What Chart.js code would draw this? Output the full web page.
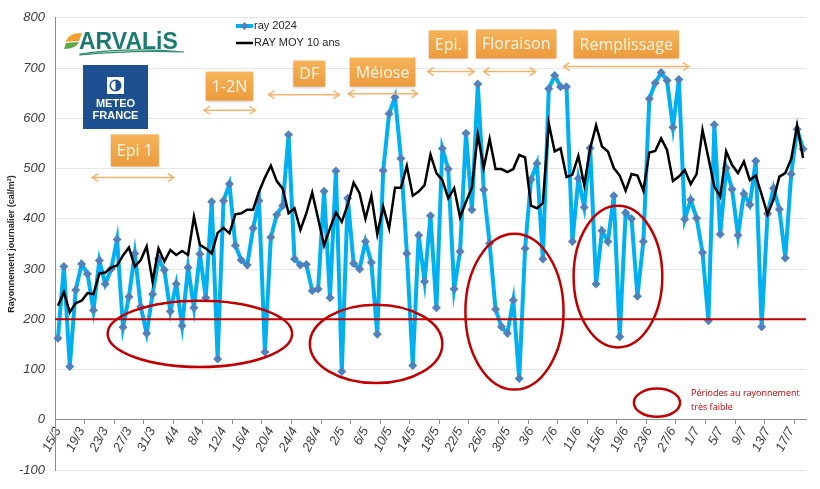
<!DOCTYPE html>
<html>
<head>
<meta charset="utf-8">
<script src="https://cdn.jsdelivr.net/npm/chart.js@4.4.1/dist/chart.umd.min.js"></script>
<style>
  html, body { margin: 0; padding: 0; background: #fff; }
  #wrap { width: 820px; height: 489px; }
</style>
</head>
<body>
<div id="wrap"><canvas id="graph" width="820" height="489"></canvas></div>
<script>
// jours du 15/3 au 19/7/2024
const premierJour = new Date(2024, 2, 15);
const nbJours = 127;
const jours = [];
for (let i = 0; i < nbJours; i++) {
  const d = new Date(premierJour.getFullYear(), premierJour.getMonth(), premierJour.getDate() + i);
  jours.push(d.getDate() + '/' + (d.getMonth() + 1));
}

// rayonnement journalier 2024 (cal/m²)
const ray2024 = [
  162, 305, 106, 258, 310, 290, 218, 317, 270, 300,
  359, 184, 245, 331, 225, 172, 250, 321, 298, 216,
  270, 187, 303, 223, 330, 243, 434, 121, 436, 469,
  347, 318, 308, 381, 436, 135, 363, 408, 426, 567,
  320, 308, 309, 257, 260, 455, 243, 495, 96, 441,
  311, 300, 355, 313, 170, 496, 609, 642, 520, 331,
  108, 367, 275, 406, 223, 540, 499, 260, 335, 570,
  418, 668, 458, 351, 220, 185, 172, 238, 82, 341,
  478, 510, 320, 659, 685, 663, 663, 355, 480, 423,
  541, 270, 376, 355, 446, 165, 412, 400, 246, 355,
  639, 670, 691, 675, 582, 677, 399, 438, 401, 333,
  197, 587, 369, 501, 459, 367, 450, 428, 515, 185,
  410, 461, 419, 322, 489, 578, 539
];

// moyenne 10 ans
const rayMoy10 = [
  227, 254, 214, 232, 237, 252, 250, 291, 293, 303,
  307, 327, 343, 305, 318, 345, 275, 341, 315, 338,
  328, 336, 328, 404, 348, 341, 331, 372, 382, 371,
  409, 411, 418, 418, 454, 482, 506, 475, 460, 411,
  421, 378, 411, 452, 400, 347, 381, 413, 394, 428,
  472, 451, 400, 446, 369, 424, 381, 462, 462, 505,
  446, 454, 467, 528, 491, 477, 441, 461, 403, 434,
  462, 568, 501, 559, 499, 499, 493, 499, 527, 522,
  426, 421, 431, 590, 534, 540, 483, 488, 525, 467,
  540, 586, 544, 534, 501, 486, 456, 489, 486, 456,
  532, 535, 560, 537, 475, 484, 497, 469, 489, 577,
  521, 464, 444, 534, 507, 491, 514, 477, 486, 448,
  409, 438, 484, 491, 519, 586, 521
];

const seuil = 200;

// stades (x en jours depuis le 15/3, y en cal/m²)
const phases = [
  { nom: 'Epi 1', x: 13.0, y: 536, h: 32, de: 5.8, a: 19.6, yFleche: 482 },
  { nom: '1-2N', x: 29.0, y: 664, h: 29, de: 24.7, a: 33.4, yFleche: 616 },
  { nom: 'DF', x: 42.5, y: 689, h: 26, de: 35.6, a: 47.6, yFleche: 647 },
  { nom: 'Méiose', x: 54.9, y: 692, h: 29, de: 49.1, a: 60.8, yFleche: 649 },
  { nom: 'Epi.', x: 66.0, y: 747, h: 28, de: 62.5, a: 70.4, yFleche: 693 },
  { nom: 'Floraison', x: 77.5, y: 748, h: 29, de: 72.0, a: 80.8, yFleche: 693 },
  { nom: 'Remplissage', x: 96.1, y: 747, h: 28, de: 85.5, a: 106.7, yFleche: 703 }
];

// périodes au rayonnement très faible
const periodesFaibles = [
  { x: 24.0, y: 171, rx: 15.6, ry: 66 },
  { x: 53.8, y: 151, rx: 11.2, ry: 78 },
  { x: 77.2, y: 215, rx: 8.3, ry: 155 },
  { x: 94.7, y: 285, rx: 7.5, ry: 141 }
];
const ellipseLegende = { x: 101.3, y: 34, rx: 3.9, ry: 28 };

const rouge = '#c00000';

function ellipse(ctx, sx, sy, e) {
  const cx = sx.getPixelForValue(e.x);
  const cy = sy.getPixelForValue(e.y);
  const rx = Math.abs(sx.getPixelForValue(e.x + e.rx) - cx);
  const ry = Math.abs(sy.getPixelForValue(e.y + e.ry) - cy);
  ctx.beginPath();
  ctx.ellipse(cx, cy, rx, ry, 0, 0, Math.PI * 2);
  ctx.stroke();
  return { cx, cy, rx, ry };
}

function fleche(ctx, x1, x2, y) {
  ctx.beginPath();
  ctx.moveTo(x1, y); ctx.lineTo(x2, y);
  ctx.moveTo(x1 + 6, y - 4); ctx.lineTo(x1, y); ctx.lineTo(x1 + 6, y + 4);
  ctx.moveTo(x2 - 6, y - 4); ctx.lineTo(x2, y); ctx.lineTo(x2 - 6, y + 4);
  ctx.stroke();
}

const decor = {
  id: 'decor',
  afterDatasetsDraw(chart) {
    const ctx = chart.ctx;
    const sx = chart.scales.x, sy = chart.scales.y;
    const a = chart.chartArea;
    ctx.save();
    // seuil 200
    ctx.strokeStyle = rouge;
    ctx.lineWidth = 2;
    const ys = sy.getPixelForValue(seuil);
    ctx.beginPath(); ctx.moveTo(a.left, ys); ctx.lineTo(a.right, ys); ctx.stroke();

    // ellipses
    ctx.lineWidth = 2.5;
    periodesFaibles.forEach(e => ellipse(ctx, sx, sy, e));
    const el = ellipse(ctx, sx, sy, ellipseLegende);
    ctx.fillStyle = rouge;
    ctx.font = '9px "Open Sans"';
    ctx.textBaseline = 'middle';
    ctx.textAlign = 'left';
    ctx.fillText('Périodes au rayonnement', el.cx + el.rx + 11, el.cy - 9);
    ctx.fillText('très faible', el.cx + el.rx + 11, el.cy + 5);

    // stades
    phases.forEach(p => {
      ctx.font = '16px "Open Sans"';
      const tw = ctx.measureText(p.nom).width;
      const w = tw + 12;
      const cx = sx.getPixelForValue(p.x);
      const cy = sy.getPixelForValue(p.y);
      const g = ctx.createLinearGradient(0, cy - p.h / 2, 0, cy + p.h / 2);
      g.addColorStop(0, '#f6b35a');
      g.addColorStop(1, '#ec9b3c');
      ctx.shadowColor = 'rgba(0,0,0,0.25)';
      ctx.shadowBlur = 3;
      ctx.shadowOffsetY = 1;
      ctx.fillStyle = g;
      ctx.fillRect(cx - w / 2, cy - p.h / 2, w, p.h);
      ctx.shadowColor = 'transparent';
      ctx.fillStyle = '#fff6e8';
      ctx.textAlign = 'center';
      ctx.fillText(p.nom, cx, cy + 1);
      ctx.strokeStyle = '#f3b46f';
      ctx.lineWidth = 1.5;
      fleche(ctx, sx.getPixelForValue(p.de), sx.getPixelForValue(p.a), sy.getPixelForValue(p.yFleche));
    });

    // légende
    ctx.strokeStyle = '#00b0f0';
    ctx.lineWidth = 4;
    ctx.beginPath(); ctx.moveTo(236, 26); ctx.lineTo(253, 26); ctx.stroke();
    ctx.fillStyle = '#4f81bd';
    ctx.beginPath(); ctx.moveTo(244.5, 22); ctx.lineTo(248.5, 26); ctx.lineTo(244.5, 30); ctx.lineTo(240.5, 26); ctx.fill();
    ctx.strokeStyle = '#000';
    ctx.lineWidth = 2.5;
    ctx.beginPath(); ctx.moveTo(236, 43); ctx.lineTo(253, 43); ctx.stroke();
    ctx.fillStyle = '#262626';
    ctx.font = '11px "Liberation Sans"';
    ctx.textAlign = 'left';
    ctx.fillText('ray 2024', 254, 26);
    ctx.fillText('RAY MOY 10 ans', 254, 43);

    // logo ARVALIS
    ctx.fillStyle = '#f0a030';
    ctx.beginPath();
    ctx.moveTo(66, 42); ctx.quadraticCurveTo(68, 33, 82, 33); ctx.lineTo(79, 41); ctx.closePath(); ctx.fill();
    ctx.fillStyle = '#5fa84a';
    ctx.beginPath();
    ctx.moveTo(66, 43); ctx.lineTo(79, 42); ctx.quadraticCurveTo(76, 49, 64, 49); ctx.closePath(); ctx.fill();
    ctx.fillStyle = '#1b7b72';
    ctx.font = 'bold 23px "Liberation Sans"';
    ctx.textBaseline = 'alphabetic';
    ctx.fillText('ARVALiS', 79, 49);
    ctx.beginPath();
    ctx.moveTo(80, 54); ctx.quadraticCurveTo(130, 47, 184, 52);
    ctx.quadraticCurveTo(130, 50, 80, 55); ctx.closePath();
    ctx.strokeStyle = '#2d8a6a'; ctx.lineWidth = 1.2; ctx.stroke();

    // logo METEO FRANCE
    ctx.fillStyle = '#1d5091';
    ctx.fillRect(83, 65, 65, 64);
    ctx.fillStyle = '#fff';
    ctx.fillRect(107, 77, 17, 17);
    ctx.fillStyle = '#1d5091';
    ctx.beginPath(); ctx.arc(115.5, 85.5, 6, 0, Math.PI * 2); ctx.fill();
    ctx.fillStyle = '#fff';
    ctx.beginPath(); ctx.arc(115.5, 85.5, 4.5, Math.PI / 2, Math.PI * 1.5); ctx.fill();
    ctx.font = 'bold 11px "Liberation Sans"';
    ctx.textAlign = 'center';
    ctx.textBaseline = 'middle';
    ctx.fillText('METEO', 115.5, 104);
    ctx.fillText('FRANCE', 115.5, 116);
    ctx.restore();
  }
};

new Chart(document.getElementById('graph'), {
  type: 'line',
  data: {
    labels: jours,
    datasets: [
      {
        label: 'ray 2024',
        data: ray2024,
        borderColor: '#00b0f0',
        borderWidth: 4,
        pointStyle: 'rectRot',
        pointRadius: 4.5,
        pointBackgroundColor: '#4f81bd',
        pointBorderWidth: 0,
        tension: 0,
        order: 2
      },
      {
        label: 'RAY MOY 10 ans',
        data: rayMoy10,
        borderColor: '#000',
        borderWidth: 2.5,
        pointRadius: 0,
        tension: 0,
        order: 1
      }
    ]
  },
  options: {
    responsive: false,
    animation: false,
    layout: { padding: { top: 16, right: 14, bottom: 19, left: 0 } },
    plugins: { legend: { display: false }, tooltip: { enabled: false } },
    scales: {
      x: {
        type: 'category',
        position: { y: 0 },
        offset: true,
        afterFit: s => { s.height = 0; },
        border: { color: '#8c8c8c', width: 1 },
        grid: {
          drawOnChartArea: false,
          drawTicks: true,
          tickLength: 4,
          offset: true,
          tickColor: c => (c.index % 5 === 0 ? '#8c8c8c' : 'transparent')
        },
        ticks: {
          autoSkip: false,
          minRotation: 62,
          maxRotation: 62,
          padding: 1,
          color: '#404040',
          font: { family: '"Liberation Sans"', size: 13, style: 'italic' },
          callback: (v, i) => (i % 4 === 0 ? jours[i] : '')
        }
      },
      y: {
        min: -100,
        max: 800,
        afterFit: s => { s.width = 55; },
        border: { color: '#8c8c8c', width: 1 },
        grid: {
          drawTicks: false,
          color: c => (c.tick.value === 0 ? 'transparent' : '#e6e6e6')
        },
        ticks: {
          stepSize: 100,
          padding: 10,
          color: '#404040',
          font: { family: '"Liberation Sans"', size: 13, style: 'italic' }
        },
        title: {
          display: true,
          text: 'Rayonnement journalier (cal/m²)',
          color: '#262626',
          padding: { top: 6, bottom: 0 },
          font: { family: '"Liberation Sans"', size: 9, weight: 'bold' }
        }
      }
    }
  },
  plugins: [decor]
});
</script>
</body>
</html>
